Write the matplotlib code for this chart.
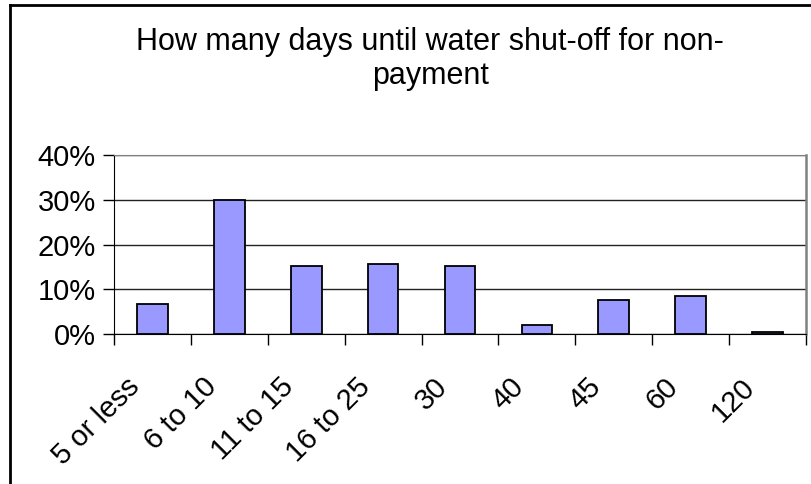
import numpy as np
import matplotlib.pyplot as plt
import matplotlib.transforms as mtransforms
from matplotlib.lines import Line2D

plt.rcParams['font.family'] = ['Liberation Sans', 'DejaVu Sans']

categories = ["5 or less", "6 to 10", "11 to 15", "16 to 25", "30", "40", "45", "60", "120"]
shares = [6.8, 30.0, 15.2, 15.6, 15.2, 1.9, 7.6, 8.5, 0.5]  # percent
title_lines = ["How many days until water shut-off for non-", "payment"]

W, H = 812, 484
fig = plt.figure(figsize=(W / 100, H / 100), dpi=100)
ax = fig.add_axes([114 / W, 1 - 334 / H, (806 - 114) / W, (334 - 155) / H])

x = np.arange(len(categories))
ax.bar(x, shares, width=0.4, color="#9999ff", edgecolor="black", linewidth=1.3, zorder=3)

ax.set_xlim(-0.5, len(categories) - 0.5)
ax.set_ylim(0, 40)
ax.set_yticks([0, 10, 20, 30, 40])
ax.set_yticklabels(["0%", "10%", "20%", "30%", "40%"], fontsize=21)
ax.yaxis.grid(True, color="#222222", linewidth=1.0, zorder=0)

ax.set_xticks(x)
ax.set_xticklabels(categories, fontsize=21, rotation=45, ha="right", va="center",
                   rotation_mode="anchor")
ax.set_xticks(np.arange(-0.5, len(categories), 1), minor=True)
ax.tick_params(axis="x", which="major", length=0, pad=35)
ax.tick_params(axis="x", which="minor", length=8, direction="out", width=1.0)
ax.tick_params(axis="y", length=8, direction="out", width=1.0, pad=5)

# shift rotated category labels to the left, like Excel
shift = mtransforms.ScaledTranslation(-17 / 100, 0, fig.dpi_scale_trans)
for lab in ax.get_xticklabels():
    lab.set_transform(lab.get_transform() + shift)

ax.spines["top"].set_color("#808080")
ax.spines["right"].set_color("#808080")
ax.spines["right"].set_linewidth(1.8)
ax.spines["left"].set_color("black")
ax.spines["bottom"].set_color("black")

fig.text(0.53, 1 - 50 / H, title_lines[0], ha="center", va="baseline", fontsize=22)
fig.text(0.53, 1 - 84 / H, title_lines[1], ha="center", va="baseline", fontsize=22)

# chart-area border (only top and left are visible in the crop)
fig.add_artist(Line2D([9.7 / W, 9.7 / W], [0, 1 - 4.7 / H], transform=fig.transFigure,
                      color="black", linewidth=2.0))
fig.add_artist(Line2D([9.7 / W, 1], [1 - 4.7 / H, 1 - 4.7 / H], transform=fig.transFigure,
                      color="black", linewidth=2.0))

fig.savefig("out.png", dpi=100)
